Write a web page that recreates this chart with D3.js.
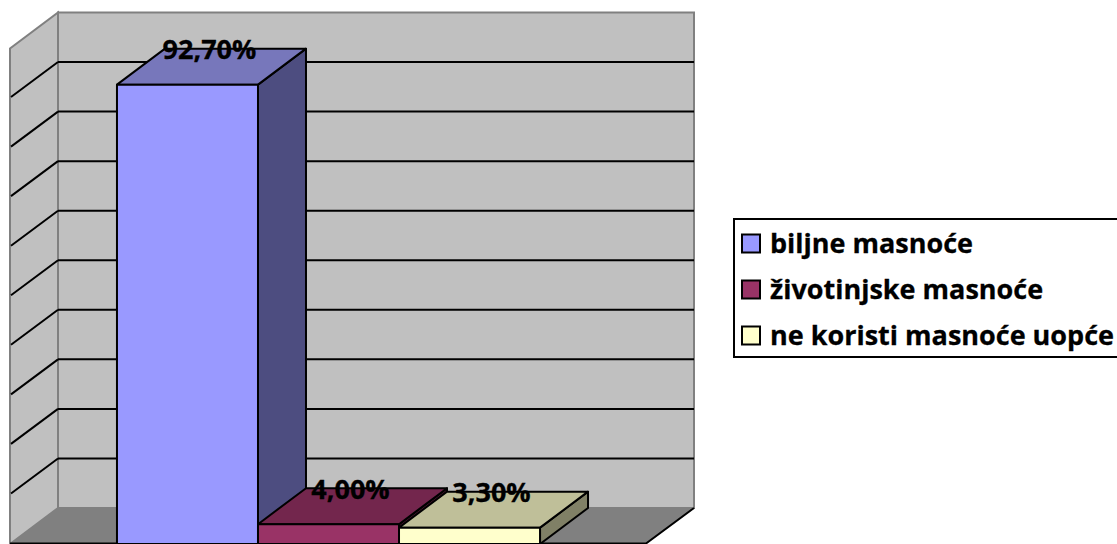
<!DOCTYPE html>
<html>
<head>
<meta charset="utf-8">
<style>
html, body { margin: 0; padding: 0; background: #fff; overflow: hidden; }
svg { display: block; }
text { font-family: "Open Sans", Lato, sans-serif; font-weight: 700; fill: #000; stroke: #000; stroke-width: 0.3; }
</style>
</head>
<body>
<svg width="1117" height="544"></svg>
<script src="https://d3js.org/d3.v7.min.js"></script>
<script>
var categories = ["biljne masnoće", "životinjske masnoće", "ne koristi masnoće uopće"];
var values = [92.7, 4.0, 3.3];
var valueLabels = ["92,70%", "4,00%", "3,30%"];
var frontColors = ["#9999ff", "#993366", "#ffffcc"];
var topColors = ["#7777bb", "#73264d", "#bfbf99"];
var sideColors = ["#4d4d80", "#4d1933", "#808066"];
var gridTicks = [0, 10, 20, 30, 40, 50, 60, 70, 80, 90, 100];

var svg = d3.select("svg");

// depth of the 3d box, back wall sits this far up and right of the front
var dx = 48, dy = -36;

var y = d3.scaleLinear().domain([0, 100]).range([544, 48.5]);
var x = d3.scaleBand().domain(categories).range([10.5, 646.5]).paddingInner(0).paddingOuter(0.755);

function poly(pts) {
	return "M" + pts.map(function(p){ return p[0] + "," + p[1]; }).join("L") + "Z";
}

var x0 = 10, x1 = 646;

// floor
svg.append("path")
	.attr("d", poly([[x0, y(0)], [x1, y(0)], [x1 + dx, y(0) + dy], [x0 + dx, y(0) + dy]]))
	.attr("fill", "#808080")
	.attr("stroke", "none");

// left wall and back wall
svg.append("path")
	.attr("d", poly([[x0, y(0)], [x0 + dx, y(0) + dy], [x0 + dx, y(100) + dy], [x0, y(100)]]))
	.attr("fill", "#c0c0c0")
	.attr("stroke", "#808080")
	.attr("stroke-width", 2);

svg.append("path")
	.attr("d", poly([[x0 + dx, y(0) + dy], [x1 + dx, y(0) + dy], [x1 + dx, y(100) + dy], [x0 + dx, y(100) + dy]]))
	.attr("fill", "#c0c0c0")
	.attr("stroke", "#808080")
	.attr("stroke-width", 2);

// gridlines, 0 and 100 are left to the wall edges
var inner = gridTicks.slice(1, -1);

svg.selectAll(".gridleft")
	.data(inner)
	.enter().append("line")
	.attr("class", "gridleft")
	.attr("x1", x0 + 1)
	.attr("y1", function(d){ return y(d) - 1; })
	.attr("x2", x0 + dx)
	.attr("y2", function(d){ return y(d) + dy; })
	.attr("stroke", "#000")
	.attr("stroke-width", 2);

svg.selectAll(".gridback")
	.data(inner)
	.enter().append("line")
	.attr("class", "gridback")
	.attr("x1", x0 + dx)
	.attr("y1", function(d){ return y(d) + dy; })
	.attr("x2", x1 + dx)
	.attr("y2", function(d){ return y(d) + dy; })
	.attr("stroke", "#000")
	.attr("stroke-width", 2);

// front and right floor edges
svg.append("path")
	.attr("d", "M" + x0 + "," + (y(0) - 0.5) + "L" + x1 + "," + (y(0) - 0.5) + "L" + (x1 + dx) + "," + (y(0) + dy))
	.attr("fill", "none")
	.attr("stroke", "#000")
	.attr("stroke-width", 2);

// bars, left to right so the later top covers the earlier side
var bars = svg.selectAll(".bar")
	.data(categories)
	.enter().append("g")
	.attr("class", "bar")
	.attr("stroke", "#000")
	.attr("stroke-width", 2)
	.attr("stroke-linejoin", "round");

bars.append("path")
	.attr("fill", function(d, i){ return sideColors[i]; })
	.attr("d", function(d, i){
		var r = x(d) + x.bandwidth();
		return poly([[r, y(0)], [r + dx, y(0) + dy], [r + dx, y(values[i]) + dy], [r, y(values[i])]]);
	});

bars.append("path")
	.attr("fill", function(d, i){ return topColors[i]; })
	.attr("d", function(d, i){
		var l = x(d), r = l + x.bandwidth(), t = y(values[i]);
		return poly([[l, t], [r, t], [r + dx, t + dy], [l + dx, t + dy]]);
	});

bars.append("path")
	.attr("fill", function(d, i){ return frontColors[i]; })
	.attr("d", function(d, i){
		var l = x(d), r = l + x.bandwidth(), t = y(values[i]);
		return poly([[l, t], [r, t], [r, y(0)], [l, y(0)]]);
	});

// value labels
svg.selectAll(".label")
	.data(categories)
	.enter().append("text")
	.attr("class", "label")
	.attr("x", function(d){ return x(d) + x.bandwidth() / 2 + dx / 2 - 2; })
	.attr("y", function(d, i){ return y(values[i]) + dy + 10.5; })
	.attr("text-anchor", "middle")
	.attr("font-size", 27)
	.text(function(d, i){ return valueLabels[i]; });

// legend
var legend = svg.append("g");

legend.append("rect")
	.attr("x", 734)
	.attr("y", 219)
	.attr("width", 400)
	.attr("height", 138)
	.attr("fill", "#fff")
	.attr("stroke", "#000")
	.attr("stroke-width", 2);

var legendY = d3.scalePoint().domain(categories).range([243, 335]);

legend.selectAll(".swatch")
	.data(categories)
	.enter().append("rect")
	.attr("class", "swatch")
	.attr("x", 742)
	.attr("y", function(d){ return legendY(d) - 8.5; })
	.attr("width", 18)
	.attr("height", 18)
	.attr("fill", function(d, i){ return frontColors[i]; })
	.attr("stroke", "#000")
	.attr("stroke-width", 2);

legend.selectAll(".entry")
	.data(categories)
	.enter().append("text")
	.attr("class", "entry")
	.attr("x", 770)
	.attr("y", function(d){ return legendY(d) + 10; })
	.attr("font-size", 27)
	.text(function(d){ return d; });
</script>
</body>
</html>
